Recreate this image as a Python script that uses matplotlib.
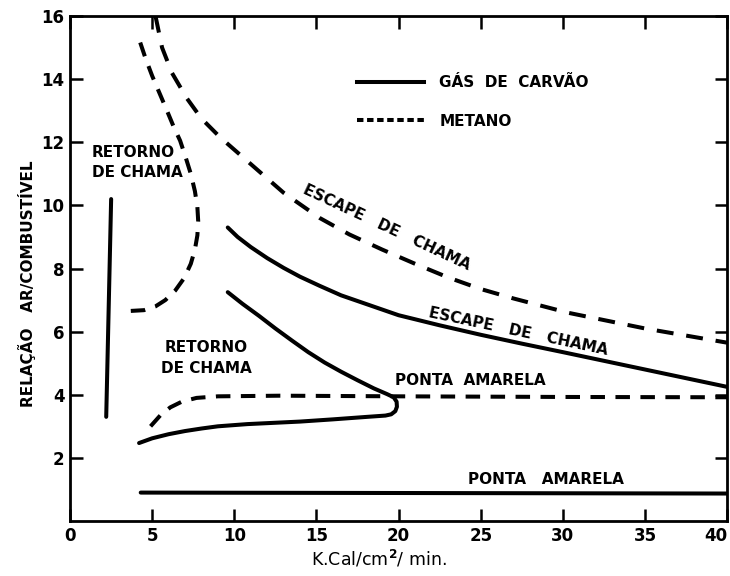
import matplotlib
matplotlib.use("Agg")
import matplotlib.pyplot as plt
from matplotlib.lines import Line2D

# ---------------- data ----------------
x_ticks = [0, 5, 10, 15, 20, 25, 30, 35, 40]
y_ticks = [2, 4, 6, 8, 10, 12, 14, 16]

# Gás de carvão (solid)
gas_flashback_x = [2.5, 2.2]
gas_flashback_y = [10.2, 3.3]

gas_blowoff_x = [9.6, 10.2, 11.0, 12.0, 13.0, 14.0, 15.2, 16.5, 18.0, 20.0, 22.5,
                 25.0, 27.5, 30.0, 35.0, 40.0]
gas_blowoff_y = [9.3, 9.0, 8.68, 8.33, 8.02, 7.74, 7.45, 7.15, 6.88, 6.52, 6.2,
                 5.9, 5.62, 5.35, 4.8, 4.25]

gas_loop_x = [9.6, 10.5, 11.5, 12.5, 13.5, 14.5, 15.5, 16.5, 17.5, 18.5, 19.3, 19.7,
              19.88, 19.9, 19.8, 19.55, 19.2, 18.1, 16.0, 14.0, 12.0, 10.8, 9.0, 8.0,
              7.0, 6.0, 5.0, 4.2]
gas_loop_y = [7.25, 6.88, 6.5, 6.1, 5.72, 5.35, 5.02, 4.73, 4.46, 4.2, 4.02, 3.92,
              3.78, 3.62, 3.48, 3.38, 3.34, 3.3, 3.22, 3.15, 3.1, 3.07, 3.0, 2.93,
              2.85, 2.75, 2.62, 2.47]

gas_yellow_x = [4.3, 40.0]
gas_yellow_y = [0.9, 0.87]

# Metano (dashed)
met_flashback_x = [4.27, 4.6, 5.0, 5.45, 5.9, 6.3, 6.7, 7.05, 7.35, 7.6, 7.75, 7.8,
                   7.75, 7.6, 7.35, 6.95, 6.4, 5.8, 5.2, 4.5, 3.5]
met_flashback_y = [15.16, 14.65, 14.1, 13.55, 13.0, 12.5, 12.05, 11.5, 11.0, 10.45,
                   9.95, 9.5, 9.05, 8.6, 8.15, 7.7, 7.3, 7.0, 6.8, 6.68, 6.65]

met_blowoff_x = [5.2, 5.6, 6.2, 7.1, 8.0, 9.15, 10.8, 13.0, 15.2, 17.0, 19.0, 21.0,
                 23.0, 25.0, 27.0, 30.3, 35.0, 40.0]
met_blowoff_y = [16.0, 15.0, 14.2, 13.4, 12.75, 12.15, 11.4, 10.4, 9.6, 9.08, 8.6,
                 8.15, 7.72, 7.35, 7.05, 6.6, 6.1, 5.65]

met_yellow_x = [4.9, 5.5, 6.1, 6.8, 7.7, 9.0, 12.8, 20.0, 30.0, 40.0]
met_yellow_y = [3.0, 3.35, 3.6, 3.78, 3.9, 3.95, 3.97, 3.95, 3.93, 3.92]

legend_labels = ["GÁS  DE  CARVÃO", "METANO"]

# ---------------- drawing ----------------
FONT = "DejaVu Sans"
plt.rcParams["font.family"] = [FONT]
plt.rcParams["font.weight"] = "bold"

fig = plt.figure(figsize=(7.3, 5.76), dpi=100)
ax = fig.add_axes([0.096, 0.0955, 0.9, 0.8767])

LW = 2.9
DASH = (0, (4.2, 3.2))
DASH_MET = (0, (3.6, 2.6))

ax.plot(gas_flashback_x, gas_flashback_y, color="k", lw=LW, solid_capstyle="round")
ax.plot(gas_blowoff_x, gas_blowoff_y, color="k", lw=LW, solid_capstyle="round")
ax.plot(gas_loop_x, gas_loop_y, color="k", lw=LW, solid_capstyle="round",
        solid_joinstyle="round")
ax.plot(gas_yellow_x, gas_yellow_y, color="k", lw=LW, solid_capstyle="round")

ax.plot(met_flashback_x, met_flashback_y, color="k", lw=LW, linestyle=DASH_MET)
ax.plot(met_blowoff_x, met_blowoff_y, color="k", lw=LW, linestyle=DASH)
ax.plot(met_yellow_x, met_yellow_y, color="k", lw=LW, linestyle=DASH_MET)

ax.set_xlim(0, 40)
ax.set_ylim(0, 16)
ax.set_xticks(x_ticks)
ax.set_yticks(y_ticks)
ax.set_xticklabels([str(v) for v in x_ticks])
ax.set_yticklabels([str(v) for v in y_ticks])
ax.tick_params(direction="in", top=True, right=True, length=9, width=1.8,
               labelsize=12, pad=4)
for lab in ax.get_xticklabels() + ax.get_yticklabels():
    lab.set_fontweight("bold")
ax.get_xticklabels()[-1].set_horizontalalignment("right")
for sp in ax.spines.values():
    sp.set_linewidth(2.0)

# legend
handles = [Line2D([], [], color="k", lw=LW),
           Line2D([], [], color="k", lw=LW, linestyle=(0, (1.6, 0.9)))]
leg = ax.legend(handles, legend_labels, loc="center left",
                bbox_to_anchor=(0.425, 0.83), frameon=False, handlelength=4.4,
                handletextpad=1.0, labelspacing=1.55, borderpad=0,
                prop={"family": FONT, "weight": "bold", "size": 11})

TXT = dict(fontsize=11, fontweight="bold", color="k")
ax.text(1.34, 11.36, "RETORNO\nDE CHAMA", ha="left", va="center",
        linespacing=1.45, **TXT)
ax.text(8.3, 5.16, "RETORNO\nDE CHAMA", ha="center", va="center",
        multialignment="center", linespacing=1.45, **TXT)
ax.text(19.3, 9.3, "ESCAPE   DE   CHAMA", ha="center", va="center",
        rotation=-25, rotation_mode="anchor", **TXT)
ax.text(27.3, 6.0, "ESCAPE   DE   CHAMA", ha="center", va="center",
        rotation=-12, rotation_mode="anchor", **TXT)
ax.text(19.8, 4.46, "PONTA  AMARELA", ha="left", va="center", **TXT)
ax.text(24.2, 1.3, "PONTA   AMARELA", ha="left", va="center", **TXT)

ax.text(-0.065, 0.47, "RELAÇÃO   AR/COMBUSTÍVEL", transform=ax.transAxes,
        rotation=90, ha="center", va="center", **TXT)
ax.text(0.47, -0.075, "K.Cal/cm$^{\\mathbf{2}}$/ min.", transform=ax.transAxes,
        ha="center", va="center", fontsize=12.5, fontweight="normal", color="k")

fig.savefig("out.png", dpi=100)
